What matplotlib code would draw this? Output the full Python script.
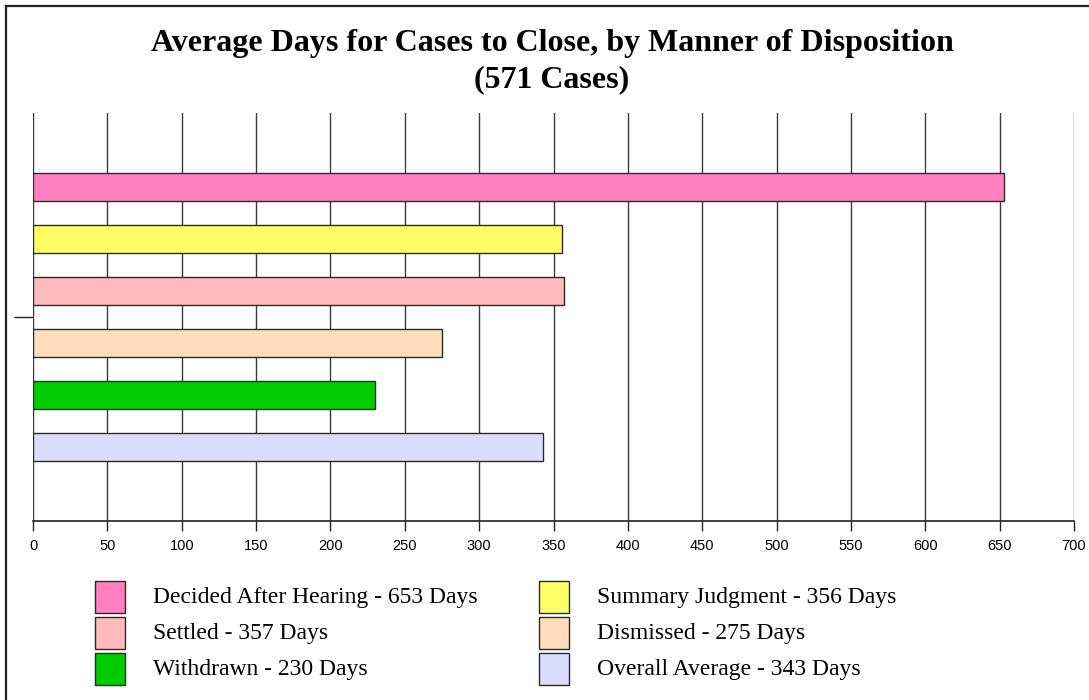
import matplotlib
matplotlib.use("Agg")
import matplotlib.pyplot as plt
from matplotlib.patches import Rectangle
from matplotlib.lines import Line2D
import numpy as np

# ---- data ----
categories = ["Decided After Hearing", "Summary Judgment", "Settled",
              "Dismissed", "Withdrawn", "Overall Average"]
days = [653, 356, 357, 275, 230, 343]
bar_colors = ["#FF80C0", "#FFFF66", "#FFBBBB", "#FFDDBB", "#00CC00", "#DCDCFF"]
x_ticks = list(range(0, 701, 50))
title_line1 = "Average Days for Cases to Close, by Manner of Disposition"
title_line2 = "(571 Cases)"

W, H = 1089, 700
fig = plt.figure(figsize=(W / 100, H / 100), dpi=100)
fig.patch.set_facecolor("white")

def fx(px):
    return px / W

def fy(py):
    return 1 - py / H

ax = fig.add_axes([fx(33), fy(521), fx(1074) - fx(33), fy(113) - fy(521)])

ypos = np.arange(len(categories))
ax.barh(ypos, days, height=0.53, color=bar_colors, edgecolor="#2a2a2a",
        linewidth=1.0, zorder=3)

ax.set_xlim(0, 700)
ax.set_ylim(len(categories) + 0.42, -1.42)
ax.set_xticks(x_ticks)
ax.set_xticklabels([str(t) for t in x_ticks], fontfamily="Liberation Sans", fontsize=10.5)
ax.set_yticks([(len(categories) - 1) / 2])
ax.set_yticklabels([""])
ax.tick_params(axis="y", length=14, width=1, color="#222222")
ax.tick_params(axis="x", length=7, width=1, color="#222222", pad=6)
ax.xaxis.grid(True, color="#3a3a3a", linewidth=1.0, zorder=0)
ax.set_axisbelow(True)
for s in ["top", "right", "left"]:
    ax.spines[s].set_visible(False)
ax.spines["bottom"].set_color("#222222")
ax.spines["bottom"].set_linewidth(1.2)

# title
for txt, py in [(title_line1, 44), (title_line2, 80)]:
    fig.text(fx(552), fy(py), txt, ha="center", va="center",
             fontfamily="Liberation Serif", fontweight="bold", fontsize=23)

# legend (row-wise, two columns)
sq_x = [95, 539]
txt_x = [153, 597]
row_top = [581, 617, 653]
for i, (cat, val, col) in enumerate(zip(categories, days, bar_colors)):
    r, c = divmod(i, 2)
    fig.patches.append(Rectangle((fx(sq_x[c]), fy(row_top[r] + 32)), fx(30), 32 / H,
                                 transform=fig.transFigure, facecolor=col,
                                 edgecolor="#2a2a2a", linewidth=1.0))
    fig.text(fx(txt_x[c]), fy(row_top[r] + 17), f"{cat} - {val} Days",
             ha="left", va="center", fontfamily="Liberation Serif", fontsize=17)

# figure border (left and top)
fig.lines.append(Line2D([fx(6), fx(6)], [fy(6), 0], transform=fig.transFigure,
                        color="#222222", linewidth=1.6))
fig.lines.append(Line2D([fx(6), 1], [fy(6), fy(6)], transform=fig.transFigure,
                        color="#222222", linewidth=1.6))

fig.savefig("out.png", dpi=100)
